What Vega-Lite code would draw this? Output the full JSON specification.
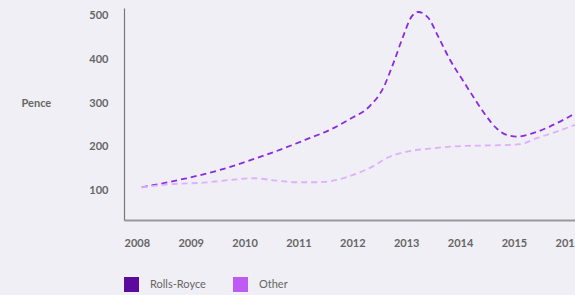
{
  "$schema": "https://vega.github.io/schema/vega-lite/v6.json",
  "width": 451,
  "height": 212,
  "autosize": {"type": "none"},
  "padding": {"left": 124, "top": 8, "right": 0, "bottom": 75},
  "background": "#F0EFF5",
  "config": {
    "view": {"stroke": null},
    "font": "Lato",
    "axis": {"grid": false, "ticks": false, "tickSize": 0, "labelColor": "#666666", "labelFontSize": 11, "labelFontWeight": "bold", "domainColor": "#888888"}
  },
  "data": {
    "values": [
      {"series": "Rolls-Royce", "year": 2008.33, "pence": 108.4},
      {"series": "Rolls-Royce", "year": 2009.16, "pence": 128.9},
      {"series": "Rolls-Royce", "year": 2009.78, "pence": 147.8},
      {"series": "Rolls-Royce", "year": 2010.40, "pence": 172.2},
      {"series": "Rolls-Royce", "year": 2011.02, "pence": 199.5},
      {"series": "Rolls-Royce", "year": 2011.36, "pence": 216.1},
      {"series": "Rolls-Royce", "year": 2011.82, "pence": 238.9},
      {"series": "Rolls-Royce", "year": 2012.19, "pence": 263.3},
      {"series": "Rolls-Royce", "year": 2012.56, "pence": 293.0},
      {"series": "Rolls-Royce", "year": 2012.81, "pence": 333.8},
      {"series": "Rolls-Royce", "year": 2013.00, "pence": 390.8},
      {"series": "Rolls-Royce", "year": 2013.18, "pence": 451.3},
      {"series": "Rolls-Royce", "year": 2013.34, "pence": 496.9},
      {"series": "Rolls-Royce", "year": 2013.46, "pence": 506.9},
      {"series": "Rolls-Royce", "year": 2013.65, "pence": 493.2},
      {"series": "Rolls-Royce", "year": 2013.83, "pence": 451.3},
      {"series": "Rolls-Royce", "year": 2014.05, "pence": 398.3},
      {"series": "Rolls-Royce", "year": 2014.29, "pence": 351.0},
      {"series": "Rolls-Royce", "year": 2014.51, "pence": 309.0},
      {"series": "Rolls-Royce", "year": 2014.73, "pence": 269.2},
      {"series": "Rolls-Royce", "year": 2014.91, "pence": 242.8},
      {"series": "Rolls-Royce", "year": 2015.10, "pence": 227.5},
      {"series": "Rolls-Royce", "year": 2015.29, "pence": 223.6},
      {"series": "Rolls-Royce", "year": 2015.59, "pence": 231.4},
      {"series": "Rolls-Royce", "year": 2015.90, "pence": 246.4},
      {"series": "Rolls-Royce", "year": 2016.21, "pence": 265.5},
      {"series": "Rolls-Royce", "year": 2016.37, "pence": 276.9},
      {"series": "Other", "year": 2008.33, "pence": 108.4},
      {"series": "Other", "year": 2008.85, "pence": 115.3},
      {"series": "Other", "year": 2009.47, "pence": 118.9},
      {"series": "Other", "year": 2009.97, "pence": 125.0},
      {"series": "Other", "year": 2010.40, "pence": 128.9},
      {"series": "Other", "year": 2010.83, "pence": 123.5},
      {"series": "Other", "year": 2011.20, "pence": 119.8},
      {"series": "Other", "year": 2011.58, "pence": 119.8},
      {"series": "Other", "year": 2011.95, "pence": 125.0},
      {"series": "Other", "year": 2012.25, "pence": 136.4},
      {"series": "Other", "year": 2012.69, "pence": 160.8},
      {"series": "Other", "year": 2012.87, "pence": 174.5},
      {"series": "Other", "year": 2013.18, "pence": 187.2},
      {"series": "Other", "year": 2013.74, "pence": 197.2},
      {"series": "Other", "year": 2014.36, "pence": 202.5},
      {"series": "Other", "year": 2014.98, "pence": 204.1},
      {"series": "Other", "year": 2015.35, "pence": 206.3},
      {"series": "Other", "year": 2015.66, "pence": 220.0},
      {"series": "Other", "year": 2016.03, "pence": 235.0},
      {"series": "Other", "year": 2016.37, "pence": 250.3}
    ]
  },
  "mark": {"type": "line", "interpolate": "monotone", "strokeWidth": 1.8, "strokeDash": [6, 4], "clip": true},
  "encoding": {
    "x": {
      "field": "year", "type": "quantitative",
      "scale": {"domain": [2008, 2016.37], "nice": false, "zero": false},
      "axis": {"values": [2008, 2009, 2010, 2011, 2012, 2013, 2014, 2015, 2016], "format": "d", "title": null, "labelAlign": "left", "labelBaseline": "top", "labelPadding": 17, "labelFlush": false, "domainWidth": 2, "domainColor": "#999999"}
    },
    "y": {
      "field": "pence", "type": "quantitative",
      "scale": {"domain": [34, 516], "nice": false, "zero": false},
      "axis": {"values": [100, 200, 300, 400, 500], "title": "Pence", "titleAngle": 0, "titleX": -103, "titleY": 95, "titleAlign": "left", "titleBaseline": "middle", "titleColor": "#666666", "titleFontSize": 11, "titleFontWeight": "bold", "labelPadding": 16, "domainColor": "#777777", "domainWidth": 1.2}
    },
    "color": {
      "field": "series", "type": "nominal",
      "sort": ["Rolls-Royce", "Other"],
      "scale": {"domain": ["Rolls-Royce", "Other"], "range": ["#8A2BE2", "#DDB0FF"]},
      "legend": {
        "title": null, "orient": "none", "legendX": 0, "legendY": 269, "direction": "horizontal",
        "symbolType": "square", "symbolSize": 225, "symbolStrokeWidth": 0, "symbolDash": [],
        "labelColor": "#666666", "labelFontSize": 11, "labelOffset": 11, "columnPadding": 27, "padding": 0,
        "encode": {"symbols": {"update": {"fill": {"signal": "datum.value == 'Rolls-Royce' ? '#5C0A9E' : '#BF5AF5'"}, "fillOpacity": {"value": 1}, "strokeWidth": {"value": 0}}}}
      }
    }
  }
}
